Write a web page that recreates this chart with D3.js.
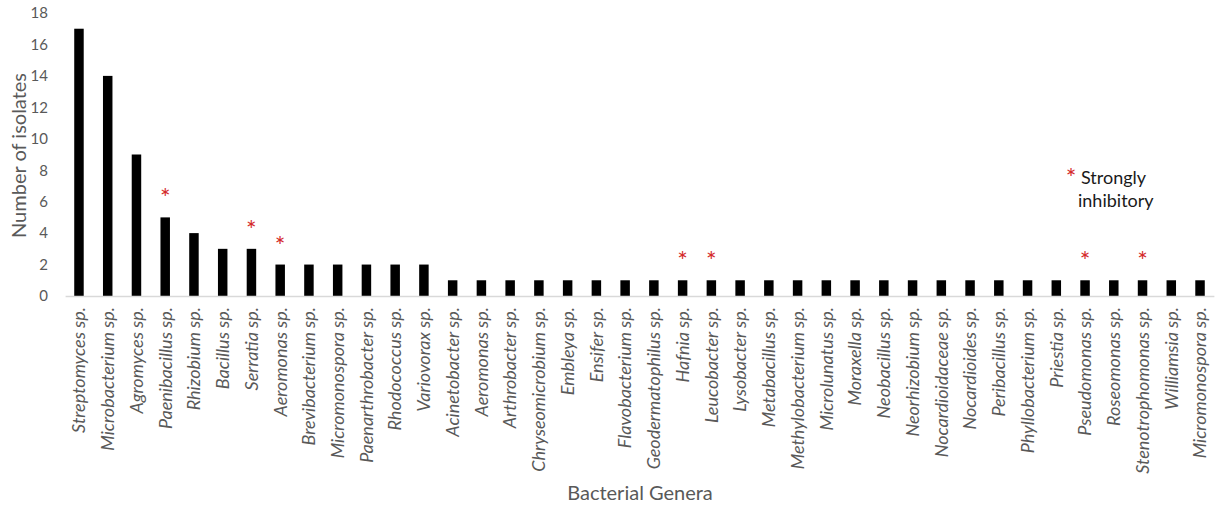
<!DOCTYPE html>
<html>
<head>
<meta charset="utf-8">
<script src="https://cdn.jsdelivr.net/npm/d3@7"></script>
<style>
  body { margin: 0; background: #fff; }
  text { font-family: Lato, "Open Sans", sans-serif; }
</style>
</head>
<body>
<div id="chart"></div>
<script>
const width = 1221
const height = 510

// Data
const genera = [
  "Streptomyces", "Microbacterium", "Agromyces", "Paenibacillus", "Rhizobium",
  "Bacillus", "Serratia", "Aeromonas", "Brevibacterium", "Micromonospora",
  "Paenarthrobacter", "Rhodococcus", "Variovorax", "Acinetobacter", "Aeromonas ",
  "Arthrobacter", "Chryseomicrobium", "Embleya", "Ensifer", "Flavobacterium",
  "Geodermatophilus", "Hafnia", "Leucobacter", "Lysobacter", "Metabacillus",
  "Methylobacterium", "Microlunatus", "Moraxella", "Neobacillus", "Neorhizobium",
  "Nocardioidaceae", "Nocardioides", "Peribacillus", "Phyllobacterium", "Priestia",
  "Pseudomonas", "Roseomonas", "Stenotrophomonas", "Williamsia", "Micromonospora "
]
const isolates = [
  17, 14, 9, 5, 4, 3, 3, 2, 2, 2, 2, 2, 2,
  1, 1, 1, 1, 1, 1, 1, 1, 1, 1, 1, 1, 1, 1,
  1, 1, 1, 1, 1, 1, 1, 1, 1, 1, 1, 1, 1
]
// genera flagged as strongly inhibitory (red asterisk)
const stronglyInhibitory = [3, 6, 7, 21, 22, 35, 37]
const yTicks = [0, 2, 4, 6, 8, 10, 12, 14, 16, 18]

const data = genera.map((g, i) => ({ genus: g, n: isolates[i], strong: stronglyInhibitory.includes(i) }))

const plotLeft = 64.6
const plotRight = 1214.4
const plotTop = 13
const plotBottom = 296
const starColor = "#d42a2a"

const svg = d3.select("#chart")
  .append("svg")
    .attr("width", width)
    .attr("height", height)

const xScale = d3.scaleBand()
  .domain(genera)
  .range([plotLeft, plotRight])
  .paddingInner(0.67)
  .paddingOuter(0.335)

const yScale = d3.scaleLinear()
  .domain([0, 18])
  .range([plotBottom, plotTop])

// bars
svg.selectAll(".bar")
  .data(data)
  .enter()
  .append("rect")
    .attr("class", "bar")
    .attr("x", d => xScale(d.genus))
    .attr("y", d => yScale(d.n))
    .attr("width", xScale.bandwidth())
    .attr("height", d => yScale(0) - yScale(d.n))
    .attr("fill", "#000")

// baseline
svg.append("line")
  .attr("x1", plotLeft + 1)
  .attr("x2", plotRight)
  .attr("y1", yScale(0) + 0.5)
  .attr("y2", yScale(0) + 0.5)
  .attr("stroke", "#d9d9d9")
  .attr("stroke-width", 1.5)

// y axis (labels only)
const yAxis = d3.axisLeft(yScale)
  .tickValues(yTicks)
  .tickSize(0)
  .tickPadding(0)

svg.append("g")
  .attr("transform", `translate(48, 0)`)
  .call(yAxis)
  .call(g => g.select(".domain").remove())
  .call(g => g.selectAll("text")
    .attr("fill", "#595959")
    .style("font-size", "15px")
    .style("font-family", "Lato, 'Open Sans', sans-serif"))

// x axis labels, rotated
const xAxis = d3.axisBottom(xScale)
  .tickSize(0)
  .tickPadding(0)
  .tickFormat(d => d.trim() + " sp.")

svg.append("g")
  .attr("transform", `translate(0, ${plotBottom + 11})`)
  .call(xAxis)
  .call(g => g.select(".domain").remove())
  .call(g => g.selectAll("text")
    .attr("fill", "#595959")
    .attr("transform", "rotate(-90)")
    .attr("text-anchor", "end")
    .attr("x", 0)
    .attr("y", 0)
    .attr("dy", "0.35em")
    .style("font-size", "18px")
    .style("font-style", "italic")
    .style("font-family", "Lato, 'Open Sans', sans-serif"))

// red asterisks above strongly inhibitory genera
svg.selectAll(".star")
  .data(data.filter(d => d.strong))
  .enter()
  .append("text")
    .attr("class", "star")
    .attr("x", d => xScale(d.genus) + xScale.bandwidth() / 2)
    .attr("y", d => yScale(d.n) - 10)
    .attr("text-anchor", "middle")
    .attr("fill", starColor)
    .style("font-size", "25px")
    .text("*")

// axis titles
svg.append("text")
  .attr("transform", `translate(26, ${(plotTop + plotBottom) / 2 + 1}) rotate(-90)`)
  .attr("text-anchor", "middle")
  .attr("fill", "#595959")
  .style("font-size", "20px")
  .text("Number of isolates")

svg.append("text")
  .attr("x", 640)
  .attr("y", 500)
  .attr("text-anchor", "middle")
  .attr("fill", "#595959")
  .style("font-size", "20px")
  .text("Bacterial Genera")

// legend
svg.append("text")
  .attr("x", 1071)
  .attr("y", 187)
  .attr("text-anchor", "middle")
  .attr("fill", starColor)
  .style("font-size", "25px")
  .text("*")

svg.append("text")
  .attr("x", 1081)
  .attr("y", 184)
  .attr("fill", "#1a1a1a")
  .style("font-size", "18px")
  .text("Strongly")

svg.append("text")
  .attr("x", 1078)
  .attr("y", 207)
  .attr("fill", "#1a1a1a")
  .style("font-size", "18px")
  .text("inhibitory")
</script>
</body>
</html>
